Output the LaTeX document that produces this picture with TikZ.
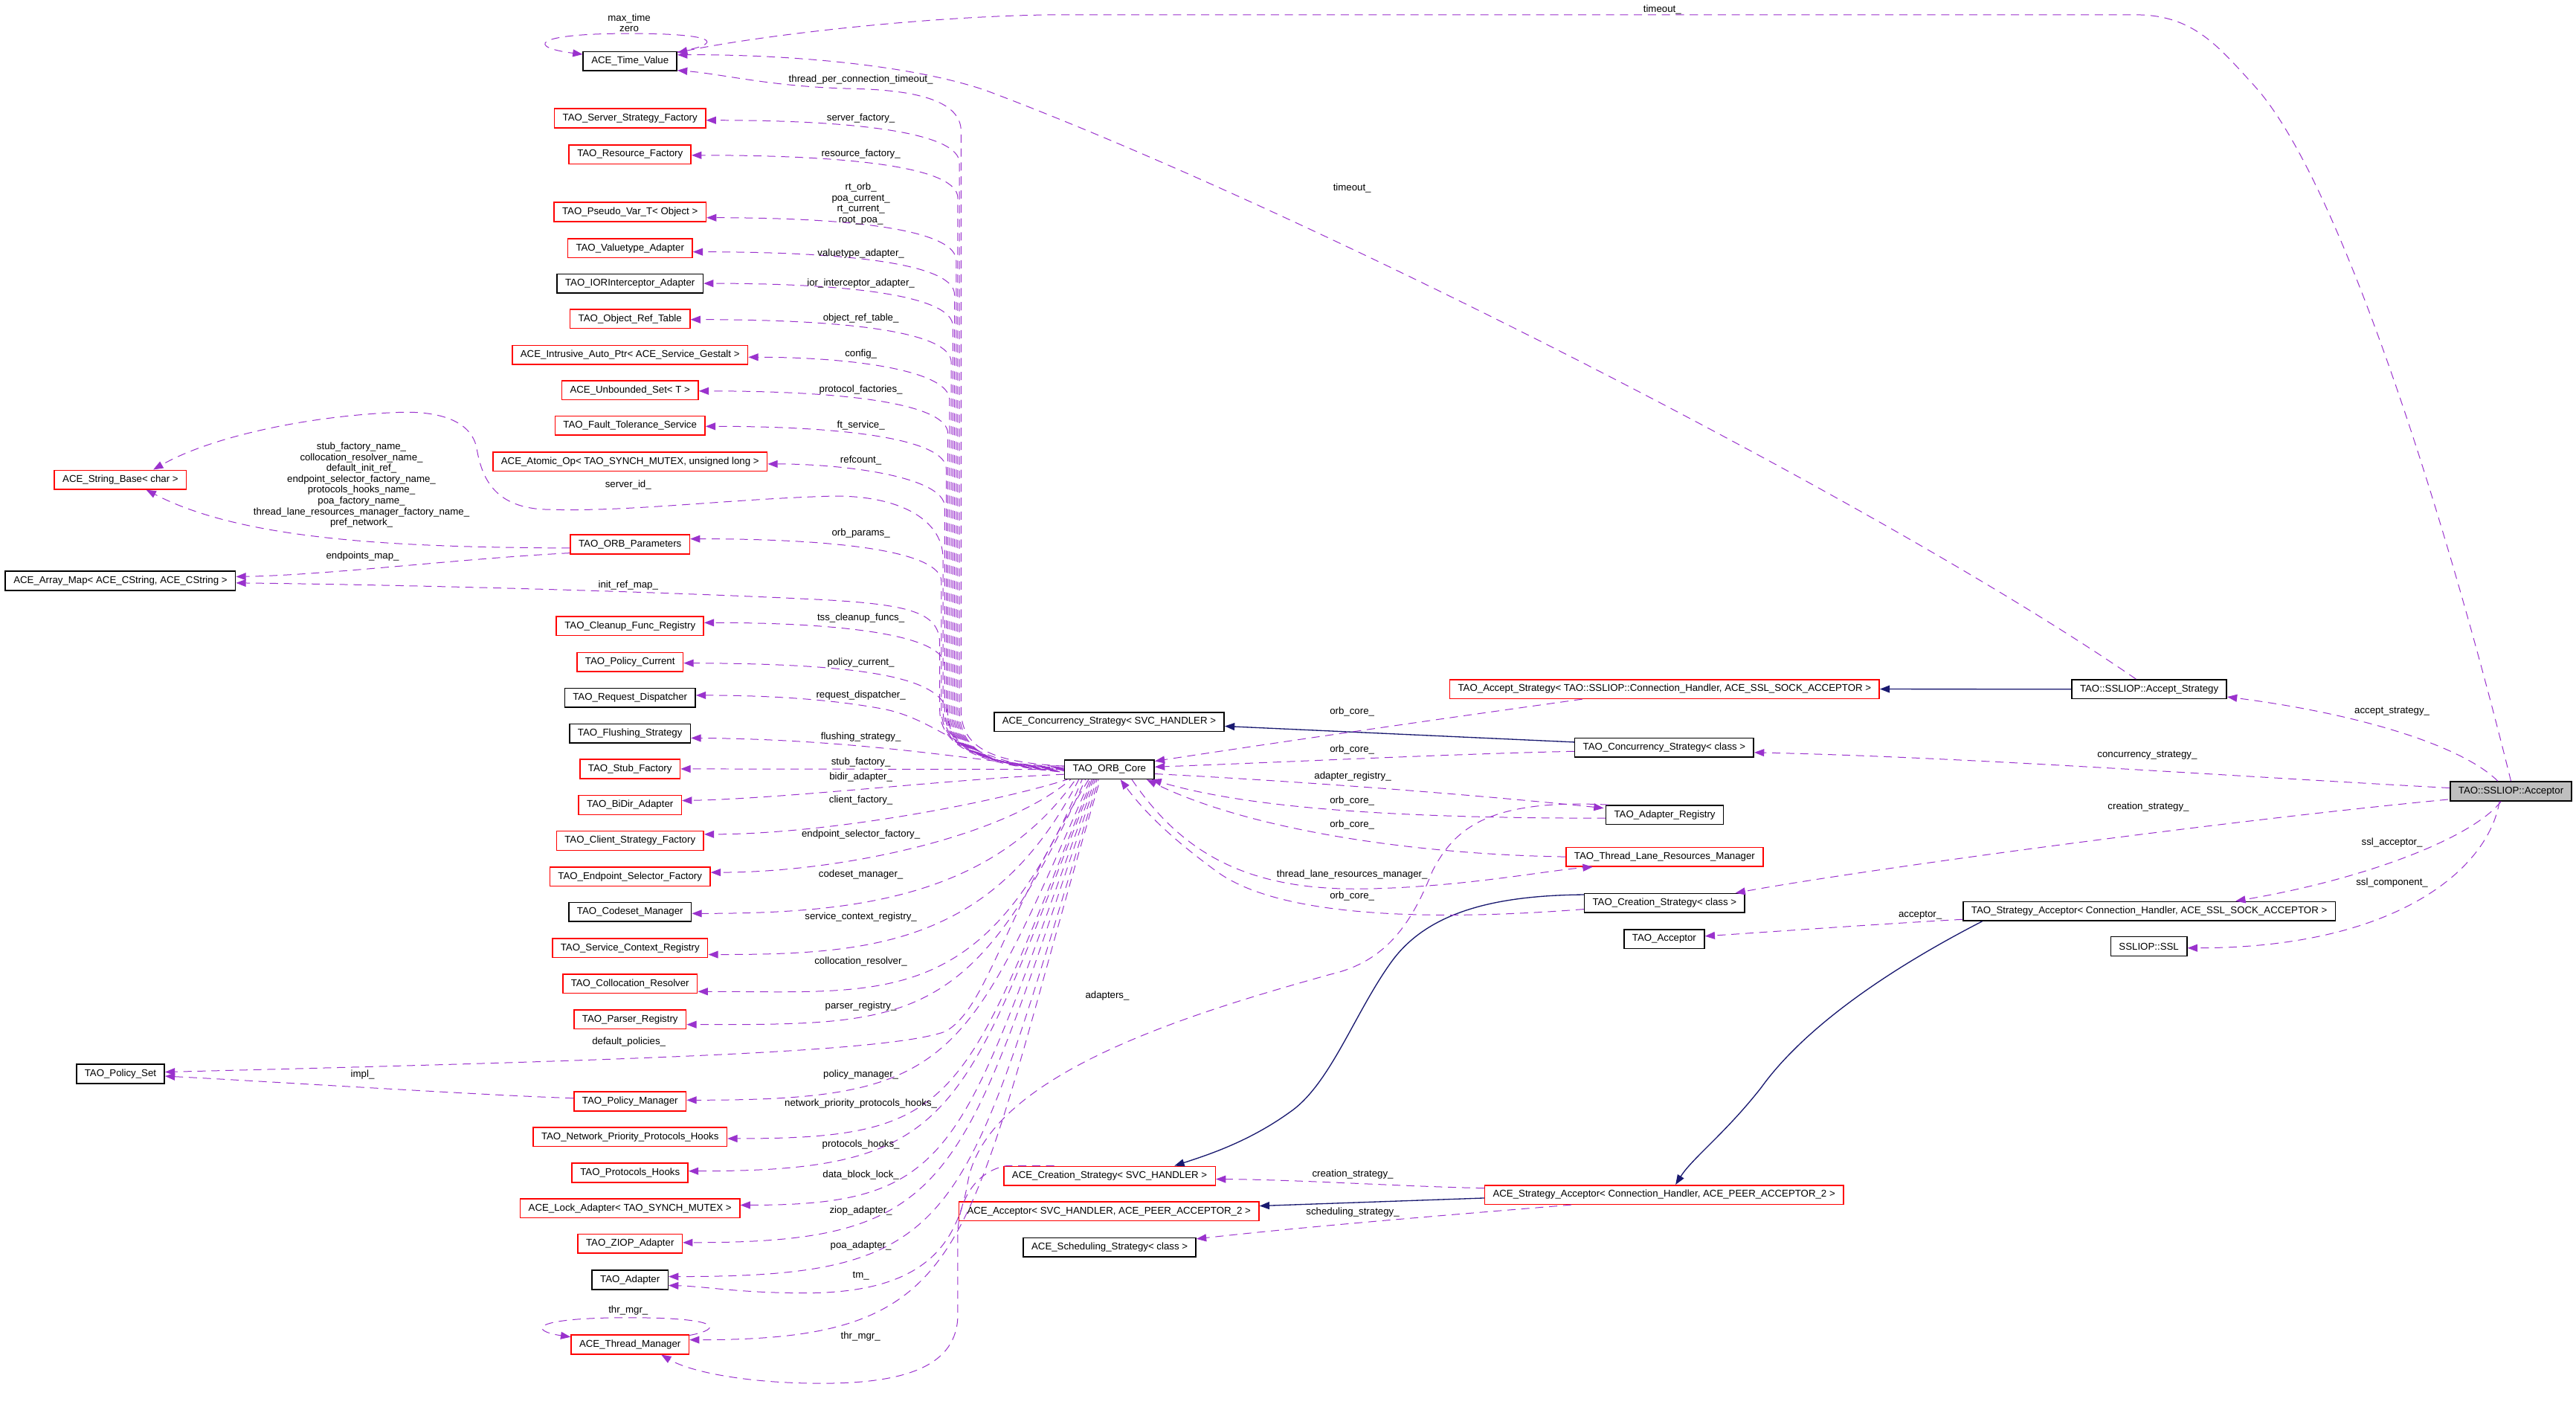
\documentclass[tikz,border=0pt]{standalone}
\usepackage{fontspec}
\setmainfont{Liberation Sans}
\usetikzlibrary{arrows.meta,calc}
\definecolor{edgepurple}{HTML}{9A32CD}
\definecolor{inhblue}{HTML}{191970}
\definecolor{accgray}{HTML}{BFBFBF}
\newcommand\dxfont{\fontsize{6}{6.6}\selectfont}
\tikzset{
  cls/.style={draw=black,fill=white,line width=0.7pt,inner xsep=5pt,inner ysep=0pt,minimum height=11.6pt,font=\dxfont},
  rcls/.style={cls,draw=red},
  member/.style={draw=edgepurple,line width=0.45pt,dash pattern=on 5pt off 3.5pt,-{Triangle[length=6pt,width=4.5pt]}},
  inh/.style={draw=inhblue,line width=0.6pt,-{Triangle[length=6pt,width=4.5pt]}},
  lbl/.style={font=\dxfont,inner sep=0pt,align=center}
}
\begin{document}
\begin{tikzpicture}[x=1pt,y=-1pt]
\path[use as bounding box,fill=white] (0,0) rectangle (1568,860);
% member classes of TAO_ORB_Core
\foreach \nm/\y/\sty/\txt in {
  time/37.2/cls/ACE\_Time\_Value, ssf/72/rcls/TAO\_Server\_Strategy\_Factory,
  rf/94/rcls/TAO\_Resource\_Factory, pv/129/rcls/TAO\_Pseudo\_Var\_T< Object >,
  vt/151/rcls/TAO\_Valuetype\_Adapter, ior/172.5/cls/TAO\_IORInterceptor\_Adapter,
  ort/194/rcls/TAO\_Object\_Ref\_Table, iap/216/rcls/ACE\_Intrusive\_Auto\_Ptr< ACE\_Service\_Gestalt >,
  us/237.5/rcls/ACE\_Unbounded\_Set< T >, fts/259/rcls/TAO\_Fault\_Tolerance\_Service,
  aop/281/rcls/{ACE\_Atomic\_Op< TAO\_SYNCH\_MUTEX, unsigned long >}, op/331.3/rcls/TAO\_ORB\_Parameters,
  cfr/381/rcls/TAO\_Cleanup\_Func\_Registry, pc/403/rcls/TAO\_Policy\_Current,
  rd/424.7/cls/TAO\_Request\_Dispatcher, fs/446.5/cls/TAO\_Flushing\_Strategy,
  stub/468/rcls/TAO\_Stub\_Factory, bidir/490/rcls/TAO\_BiDir\_Adapter,
  csf/511.7/rcls/TAO\_Client\_Strategy\_Factory, esf/533.5/rcls/TAO\_Endpoint\_Selector\_Factory,
  cm/555/cls/TAO\_Codeset\_Manager, scr/577/rcls/TAO\_Service\_Context\_Registry,
  cr/598.7/rcls/TAO\_Collocation\_Resolver, pr/620.4/rcls/TAO\_Parser\_Registry,
  pm/670.4/rcls/TAO\_Policy\_Manager, npph/692/rcls/TAO\_Network\_Priority\_Protocols\_Hooks,
  ph/713.8/rcls/TAO\_Protocols\_Hooks, la/735.4/rcls/ACE\_Lock\_Adapter< TAO\_SYNCH\_MUTEX >,
  ziop/757/rcls/TAO\_ZIOP\_Adapter, ta/779/cls/TAO\_Adapter, tmg/818.4/rcls/ACE\_Thread\_Manager}
  \node[\sty] (\nm) at (383.5,\y) {\txt};
\node[rcls] (sb) at (73.3,292) {ACE\_String\_Base< char >};
\node[cls] (am) at (73.3,353.5) {ACE\_Array\_Map< ACE\_CString, ACE\_CString >};
\node[cls] (ps) at (73.3,653.6) {TAO\_Policy\_Set};
\node[cls] (core) at (675.3,468.3) {TAO\_ORB\_Core};
\node[cls] (aconc) at (675.1,439.4) {ACE\_Concurrency\_Strategy< SVC\_HANDLER >};
\node[rcls] (acs) at (675.4,715.7) {ACE\_Creation\_Strategy< SVC\_HANDLER >};
\node[rcls] (aacc) at (675,737.3) {ACE\_Acceptor< SVC\_HANDLER, ACE\_PEER\_ACCEPTOR\_2 >};
\node[cls] (ass) at (675.4,759.2) {ACE\_Scheduling\_Strategy< class >};
\node[rcls] (tas) at (1013.2,419.4) {TAO\_Accept\_Strategy< TAO::SSLIOP::Connection\_Handler, ACE\_SSL\_SOCK\_ACCEPTOR >};
\node[cls] (tcon) at (1013,455) {TAO\_Concurrency\_Strategy< class >};
\node[cls] (ar) at (1013.3,496) {TAO\_Adapter\_Registry};
\node[rcls] (tlrm) at (1013.2,521.5) {TAO\_Thread\_Lane\_Resources\_Manager};
\node[cls] (tcs) at (1013.2,549.7) {TAO\_Creation\_Strategy< class >};
\node[cls] (tac) at (1013,571.5) {TAO\_Acceptor};
\node[rcls] (asa) at (1012.9,727.2) {ACE\_Strategy\_Acceptor< Connection\_Handler, ACE\_PEER\_ACCEPTOR\_2 >};
\node[cls] (sas) at (1308.2,419.5) {TAO::SSLIOP::Accept\_Strategy};
\node[cls] (tsa) at (1308.2,554.6) {TAO\_Strategy\_Acceptor< Connection\_Handler, ACE\_SSL\_SOCK\_ACCEPTOR >};
\node[cls] (ssl) at (1308,576) {SSLIOP::SSL};
\node[cls,fill=accgray] (acc) at (1528.4,481.6) {TAO::SSLIOP::Acceptor};

% inheritance
\draw[inh] (tcon.west |- 0,451.7) -- (aconc.east |- 0,442);
\draw[inh] (sas.west) -- (tas.east);
\draw[inh] ($(tcs.north west)+(0,1)$) .. controls (910,545) and (870,555) .. (848,584) .. controls (825,615) and (810,660) .. (785,677) .. controls (760,695) and (735,703) .. ($(acs.north)+(39.5,0)$);
\draw[inh] ($(tsa.south west)+(12,0)$) .. controls (1140,595) and (1095,630) .. (1072,662) .. controls (1050,690) and (1030,705) .. ($(asa.north)+(7,0)$);
\draw[inh] ($(asa.west)+(0,2)$) -- (aacc.east |- 0,734);

% TAO::SSLIOP::Acceptor
\draw[member] (acc.north) .. controls (1490,320) and (1425,110) .. (1372,52) .. controls (1350,28) and (1335,9) .. (1300,9) -- (640,9) .. controls (560,10) and (460,22) .. ($(time.north east)+(0,1)$);
\draw[member] ($(acc.north)+(-8,0)$) .. controls (1500,455) and (1440,435) .. ($(sas.south east)+(0,-1.5)$);
\draw[member] ($(acc.west)+(0,-2)$) .. controls (1350,472) and (1200,461) .. ($(tcon.east)+(0,3)$);
\draw[member] ($(acc.west)+(-1,5)$) .. controls (1350,500) and (1130,530) .. ($(tcs.north east)+(-6,0)$);
\draw[member] ($(acc.south)+(-6,0)$) .. controls (1505,510) and (1440,535) .. ($(tsa.north)+(52.6,0)$);
\draw[member] ($(acc.south)+(-7,0)$) .. controls (1515,528) and (1460,577) .. ($(ssl.east)+(0,1)$);
\draw[member] ($(tsa.west)+(0,5)$) .. controls (1150,562) and (1080,567) .. ($(tac.east)+(0,-1.7)$);
\draw[member] ($(sas.north)+(-8,0)$) .. controls (1150,310) and (800,130) .. (600,55) .. controls (550,38) and (470,33) .. ($(time.east)+(0,-3.8)$);

% ACE side
\draw[member] ($(asa.west)+(0,-4)$) .. controls (850,722) and (790,718) .. ($(acs.east)+(0,2)$);
\draw[member] ($(asa.south west)+(53,0)$) .. controls (900,738) and (800,746) .. ($(ass.north east)+(0,1)$);
\draw[member] ($(acs.north west)+(31,0)$) -- ($(acs.north west)+(2,0)$) .. controls (598,712) and (584,725) .. (583,750) -- (583,800) .. controls (583,832) and (550,842) .. (500,842) .. controls (455,842) and (420,835) .. ($(tmg.south)+(19,0)$);

% around TAO_ORB_Core
\draw[member] ($(tas.south west)+(81,0)$) .. controls (880,437) and (770,453) .. ($(core.east)+(0,-5)$);
\draw[member] ($(tcon.west)+(0,2.3)$) .. controls (880,459) and (780,464) .. ($(core.east)+(0,-1.5)$);
\draw[member] ($(core.east)+(0,2.7)$) .. controls (800,476) and (900,484) .. ($(ar.north west)+(-1,2)$);
\draw[member] ($(ar.west)+(0,2)$) .. controls (850,498) and (760,492) .. ($(core.south east)+(-2,0)$);
\draw[member] (tlrm.west) .. controls (860,520) and (760,505) .. ($(core.south east)+(-5,0)$);
\draw[member] ($(core.south east)+(-14,0)$) .. controls (720,520) and (760,542) .. (830,541) .. controls (890,540) and (940,530) .. ($(tlrm.south west)+(16.6,0)$);
\draw[member] ($(tcs.west)+(0,3.7)$) .. controls (880,560) and (780,560) .. (740,530) .. controls (710,508) and (695,492) .. ($(core.south)+(6.7,0)$);
\draw[member] ($(ar.north west)+(2,0)$) .. controls (905,486) and (885,505) .. (872,530) .. controls (860,560) and (845,585) .. (810,593) .. controls (720,618) and (600,655) .. (589,720) .. controls (582,760) and (560,787) .. (490,787) .. controls (450,787) and (430,783) .. ($(ta.east)+(0,3.4)$);

% TAO_ORB_Core members, upper bundle
\draw[member] ($(core.west)+(0,-2)$) .. controls (605,464) and (585,456) .. (585,432) -- (585,80) .. controls (585,62) and (560,55) .. (520,54) .. controls (470,53) and (440,45) .. ($(time.south east)+(0,-0.5)$);
\foreach \tg/\bx/\ey in {ssf/584/73.2,rf/583/94.5,pv/582/132.5,vt/581/153.3,ior/580/172.5,ort/579/194.5,iap/578/217.4,us/577/238,fts/576/259.5,aop/575/282.4,op/573/328,cfr/575/379}
  \draw[member,dash phase=\bx pt] ($(core.west)+(0,{(\bx-579)/3})$) .. controls (600,466) and (\bx,456) .. (\bx,432) -- (\bx,{\ey+26}) .. controls (\bx,{\ey+8}) and ({\bx-60},\ey) .. (\tg.east |- 0,\ey);
\draw[member,dash phase=2pt] (core.west) .. controls (600,466) and (574,456) .. (574,432) -- (574,340) .. controls (574,315) and (545,301) .. (505,302) .. controls (440,304) and (380,312) .. (330,310) .. controls (300,308) and (293,290) .. (290,272) .. controls (286,255) and (265,250) .. (242,251) .. controls (190,253) and (130,265) .. ($(sb.north)+(20,0)$);
\draw[member,dash phase=5pt] ($(core.west)+(0,1.5)$) .. controls (600,466) and (572,456) .. (572,432) -- (572,392) .. controls (572,373) and (555,368) .. (500,365) .. controls (400,360) and (250,356) .. ($(am.east)+(0,1.3)$);
\draw[member] ($(core.west)+(0,-1)$) .. controls (600,466) and (578,456) .. (577,436) .. controls (576,415) and (540,404) .. (pc.east |- 0,403.6);
\draw[member] (core.west) .. controls (590,466) and (575,440) .. (540,432) .. controls (510,426) and (470,423.2) .. (rd.east |- 0,423.2);
\draw[member] (core.west) .. controls (590,462) and (520,450) .. (fs.east |- 0,449.2);
\draw[member] (core.west) -- (stub.east);
\draw[member] ($(core.west)+(0,3)$) .. controls (580,474) and (480,486) .. (bidir.east |- 0,487.3);

% TAO_ORB_Core members, lower fan
\foreach \tg/\ox/\px/\py/\qx/\ey in {csf/2/600/490/500/507.8,esf/4/610/510/510/531,cm/7/603/548/515/556,scr/9/605/575/530/581,cr/11/600/615/540/603.5,pr/13/592/625/555/623.6,pm/16/588/648/580/669.6,npph/17/586/672/585/693,ph/18/585/680/585/712.8,la/19/585/700/585/733.5,ziop/20/585/720/585/756.3,ta/21/586/745/590/777,tmg/22/585/760/600/815.5}
  \draw[member,dash phase=\ox pt] ($(core.south west)+(\ox,0)$) .. controls (\px,\py) and (\qx,\ey) .. (\tg.east |- 0,\ey);
\draw[member] ($(core.south west)+(15,0)$) .. controls (610,560) and (600,615) .. (575,628) .. controls (540,640) and (400,645) .. ($(ps.east)+(0,-1.1)$);

% other members on the left
\draw[member] ($(op.west)+(0,2.3)$) .. controls (250,333) and (150,330) .. ($(sb.south)+(15.7,0)$);
\draw[member] ($(op.west)+(0,5.3)$) .. controls (280,340) and (200,350) .. ($(am.east)+(0,-2.5)$);
\draw[member] ($(pm.west)+(0,-2)$) .. controls (300,667) and (160,658) .. ($(ps.east)+(0,1.4)$);

% self references
\draw[member] ($(time.north east)+(0,0.5)$) .. controls (440,27) and (440,20.4) .. (383,20.4) .. controls (322,20.4) and (322,29) .. ($(time.north west)+(0,2)$);
\draw[member] ($(tmg.north east)+(0,0.5)$) .. controls (440,809) and (440,802) .. (383,802) .. controls (322,802) and (322,810) .. ($(tmg.north west)+(0,1.5)$);

% edge labels
\foreach \nm/\x/\y/\txt in {
  lTimeoutA/1011.8/5.7/timeout\_, lTimeoutB/823/114.6/timeout\_,
  lTpct/524/48.6/thread\_per\_connection\_timeout\_, lSf/524/72/server\_factory\_,
  lRf/524/93.6/resource\_factory\_, lVa/524/154.2/valuetype\_adapter\_,
  lIor/524/172.4/ior\_interceptor\_adapter\_, lOrt/524/193.7/object\_ref\_table\_,
  lCfg/524/215.7/config\_, lPf/524/237.4/protocol\_factories\_,
  lFt/524/259/ft\_service\_, lRc/524/280/refcount\_,
  lSid/382.4/295.2/server\_id\_, lOp/524/324.5/orb\_params\_,
  lEm/220.7/338.8/endpoints\_map\_, lIrm/382.4/356.2/init\_ref\_map\_,
  lTss/524/376.4/tss\_cleanup\_funcs\_, lPc/524/403.3/policy\_current\_,
  lRd/524/423.2/request\_dispatcher\_, lFs/524/448.4/flushing\_strategy\_,
  lStub/524/463.9/stub\_factory\_, lBidir/524/473/bidir\_adapter\_,
  lCf/524/487.3/client\_factory\_, lEsf/524/508/endpoint\_selector\_factory\_,
  lCm/524/532.4/codeset\_manager\_, lScr/524/558/service\_context\_registry\_,
  lCr/524/585.1/collocation\_resolver\_, lPr/524/612.5/parser\_registry\_,
  lDp/382.8/634.2/default\_policies\_, lImpl/220.7/654/impl\_,
  lPm/524/654.2/policy\_manager\_, lNpph/524/671.8/network\_priority\_protocols\_hooks\_,
  lPh/524/696.6/protocols\_hooks\_, lDbl/524/715.4/data\_block\_lock\_,
  lZiop/524/736.9/ziop\_adapter\_, lPoa/524/758.1/poa\_adapter\_,
  lTm/524/776.6/tm\_, lThrLoop/382.4/797.8/thr\_mgr\_,
  lThr/523.8/813.4/thr\_mgr\_, lAdp/674/606/adapters\_,
  lOcA/823/433.3/orb\_core\_, lOcB/823/456.4/orb\_core\_,
  lAreg/823.4/472.8/adapter\_registry\_, lOcC/823/487.5/orb\_core\_,
  lOcD/823/502/orb\_core\_, lTlrm/823/532.4/thread\_lane\_resources\_manager\_,
  lOcE/823/545.6/orb\_core\_, lCsA/823.4/714.7/creation\_strategy\_,
  lSs/823.4/738/scheduling\_strategy\_, lAs/1456/433/accept\_strategy\_,
  lCon/1307/459.5/concurrency\_strategy\_, lCsB/1307.7/491/creation\_strategy\_,
  lSa/1456/513/ssl\_acceptor\_, lSc/1456/537.4/ssl\_component\_,
  lAcc/1168.8/557.2/acceptor\_}
  \node[lbl] (\nm) at (\x,\y) {\txt};
\node[lbl] (lMt) at (383,14) {max\_time\\zero};
\node[lbl] (lPv) at (524,124) {rt\_orb\_\\poa\_current\_\\rt\_current\_\\root\_poa\_};
\node[lbl] (lSbn) at (220,295.2) {stub\_factory\_name\_\\collocation\_resolver\_name\_\\default\_init\_ref\_\\endpoint\_selector\_factory\_name\_\\protocols\_hooks\_name\_\\poa\_factory\_name\_\\thread\_lane\_resources\_manager\_factory\_name\_\\pref\_network\_};
\end{tikzpicture}
\end{document}
